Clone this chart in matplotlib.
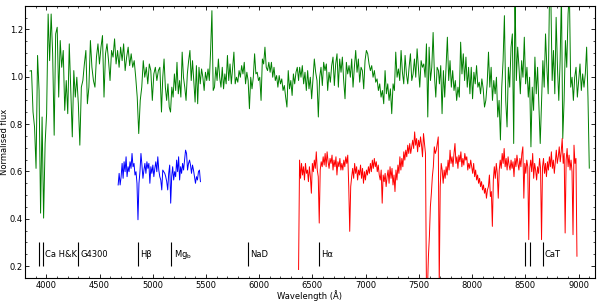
import matplotlib
matplotlib.use("Agg")
import matplotlib.pyplot as plt
from matplotlib.ticker import MultipleLocator
import numpy as np

# green spectrum in four consecutive pieces
green_1_range = (3847, 5067)
green_1 = [1.024, 1.026, 0.851, 0.788, 0.613, 1.090, 0.942, 0.424, 0.830, 0.403,
           0.718, 0.844, 1.265, 1.068, 1.265, 1.097, 0.753, 1.181, 1.209, 0.914,
           1.153, 1.040, 1.111, 0.858, 0.984, 0.844, 1.139, 0.942, 0.746, 1.026,
           0.914, 0.998, 0.886, 0.711, 0.956, 0.984, 1.054, 1.111, 0.886, 0.956,
           1.153, 1.040, 0.984, 0.956, 1.083, 1.139, 1.054, 1.125, 1.174, 0.914,
           1.097, 1.139, 1.068, 0.984, 1.111, 1.083, 1.160, 1.054, 1.111, 1.040,
           1.125, 1.068, 1.139, 1.026, 1.083, 1.125, 1.047, 1.097, 1.040, 1.068,
           0.998, 0.914, 0.760, 0.900, 0.956, 1.068, 0.998, 1.040, 0.970, 1.054,
           1.026, 0.900, 1.012, 1.040, 0.984, 1.026, 1.040]
green_2_range = (5082, 6370)
green_2 = [0.851, 0.998, 1.075, 0.956, 0.900, 0.970, 0.872, 0.851, 0.956, 0.914,
           1.012, 0.942, 1.061, 0.928, 0.984, 0.914, 1.104, 0.998, 0.956, 0.900,
           1.012, 1.068, 1.111, 0.984, 1.068, 0.984, 0.893, 1.047, 0.886, 1.040,
           0.970, 1.033, 0.998, 0.942, 1.019, 0.984, 1.033, 0.984, 1.111, 1.279,
           0.942, 0.956, 1.040, 0.984, 1.075, 0.998, 0.956, 1.040, 0.949, 1.012,
           0.970, 1.090, 0.984, 1.054, 0.970, 1.040, 1.104, 0.970, 0.998, 0.977,
           1.026, 0.998, 1.047, 1.012, 1.061, 0.970, 1.019, 0.984, 0.865, 0.998,
           0.949, 0.998, 1.097, 1.012, 1.019, 0.984, 0.998, 0.900, 1.075, 1.054,
           1.125, 1.040, 1.026, 1.061, 1.019, 1.061, 0.998, 1.040, 0.984, 1.005,
           0.956, 1.005, 0.970, 0.991, 0.942, 0.963, 0.914, 0.872, 1.026, 0.949,
           0.984, 0.921, 1.012, 0.970, 1.019, 1.040, 0.984]
green_3_range = (6380, 7684)
green_3 = [1.040, 0.998, 1.047, 0.970, 1.019, 0.942, 1.026, 0.949, 0.998, 0.907,
           0.991, 1.075, 1.019, 0.984, 0.830, 0.998, 1.040, 0.963, 1.061, 1.026,
           1.054, 0.942, 1.019, 0.977, 1.047, 1.083, 0.963, 1.054, 1.097, 0.956,
           1.075, 1.019, 1.083, 0.984, 0.907, 1.061, 1.012, 1.047, 0.998, 1.075,
           0.956, 1.040, 1.111, 1.019, 1.075, 0.977, 1.040, 1.026, 0.949, 1.068,
           1.111, 1.097, 1.054, 1.026, 1.047, 0.998, 1.026, 0.977, 0.991, 0.942,
           0.970, 0.914, 0.942, 0.886, 1.026, 0.928, 0.970, 0.900, 0.949, 0.844,
           0.970, 0.942, 1.104, 0.998, 1.033, 0.984, 1.111, 1.019, 0.970, 1.090,
           1.012, 0.970, 1.040, 1.097, 0.984, 1.012, 1.075, 0.998, 1.118, 1.040,
           0.956, 1.068, 1.040, 1.054, 0.998, 1.139, 0.830, 1.125, 0.984, 1.040,
           1.187, 1.005, 0.914, 1.040, 1.026]
green_4_range = (7693, 9101)
green_4 = [0.970, 1.047, 0.844, 1.026, 0.914, 1.040, 1.167, 0.984, 1.068, 0.956,
           1.026, 0.942, 0.984, 0.900, 0.956, 0.914, 1.146, 1.012, 1.097, 0.984,
           1.083, 0.956, 1.040, 0.928, 1.040, 0.907, 1.019, 0.970, 1.047, 0.956,
           0.977, 0.928, 0.991, 0.949, 0.872, 0.900, 0.970, 1.104, 0.956, 1.040,
           0.900, 0.984, 0.928, 0.998, 0.830, 0.900, 0.733, 0.956, 1.068, 1.258,
           0.900, 0.788, 1.040, 0.956, 1.125, 1.181, 0.718, 1.350, 0.984, 1.125,
           1.040, 0.928, 1.068, 0.998, 1.167, 0.970, 1.040, 0.914, 0.998, 0.704,
           0.956, 0.858, 1.083, 0.928, 1.040, 0.872, 0.718, 0.886, 1.068, 0.956,
           1.181, 1.040, 0.928, 1.350, 1.340, 0.984, 1.111, 0.928, 1.251, 1.040,
           0.900, 1.068, 1.350, 0.739, 0.900, 1.153, 1.040, 1.265, 1.360, 0.956,
           0.998, 0.900, 0.998, 1.040, 0.914, 0.984, 1.054, 0.942, 1.012, 0.956,
           1.012, 1.125, 0.914, 0.614]

# blue spectrum
blue_range = (4675, 5448)
blue = [0.543, 0.592, 0.543, 0.578, 0.634, 0.571, 0.641, 0.599, 0.662, 0.578,
        0.620, 0.599, 0.641, 0.613, 0.676, 0.620, 0.634, 0.585, 0.599, 0.550,
        0.396, 0.550, 0.599, 0.676, 0.627, 0.571, 0.606, 0.634, 0.592, 0.641,
        0.613, 0.634, 0.550, 0.620, 0.592, 0.627, 0.578, 0.613, 0.641, 0.599,
        0.662, 0.606, 0.578, 0.564, 0.522, 0.606, 0.599, 0.592, 0.578, 0.557,
        0.522, 0.592, 0.627, 0.466, 0.578, 0.620, 0.564, 0.599, 0.578, 0.648,
        0.599, 0.662, 0.564, 0.620, 0.592, 0.634, 0.606, 0.648, 0.690, 0.676,
        0.606, 0.634, 0.648, 0.627, 0.592, 0.627, 0.606, 0.578, 0.550, 0.578,
        0.564, 0.599, 0.606, 0.557]

# red spectrum
red_range = (6370, 8985)
red = [0.186, 0.648, 0.571, 0.634, 0.585, 0.620, 0.564, 0.634, 0.592, 0.606,
       0.557, 0.620, 0.578, 0.508, 0.634, 0.599, 0.648, 0.613, 0.683, 0.606,
       0.578, 0.382, 0.606, 0.641, 0.620, 0.662, 0.627, 0.676, 0.620, 0.683,
       0.641, 0.613, 0.655, 0.634, 0.669, 0.606, 0.648, 0.620, 0.662, 0.585,
       0.641, 0.620, 0.655, 0.606, 0.634, 0.606, 0.648, 0.620, 0.662, 0.634,
       0.669, 0.536, 0.347, 0.536, 0.578, 0.613, 0.571, 0.634, 0.592, 0.620,
       0.564, 0.606, 0.585, 0.627, 0.571, 0.613, 0.550, 0.599, 0.564, 0.606,
       0.585, 0.620, 0.592, 0.634, 0.599, 0.648, 0.613, 0.655, 0.620, 0.641,
       0.599, 0.627, 0.585, 0.564, 0.606, 0.466, 0.585, 0.557, 0.592, 0.536,
       0.578, 0.606, 0.550, 0.620, 0.571, 0.613, 0.543, 0.585, 0.515, 0.606,
       0.564, 0.627, 0.592, 0.662, 0.606, 0.655, 0.620, 0.683, 0.648, 0.690,
       0.662, 0.711, 0.676, 0.718, 0.676, 0.704, 0.732, 0.697, 0.767, 0.711,
       0.739, 0.683, 0.732, 0.704, 0.746, 0.711, 0.662, 0.760, 0.718, 0.676,
       0.100, 0.100, 0.242, 0.326, 0.452, 0.508, 0.578, 0.620, 0.704, 0.676,
       0.690, 0.718, 0.746, 0.120, 0.536, 0.634, 0.606, 0.550, 0.606, 0.571,
       0.620, 0.585, 0.648, 0.606, 0.690, 0.634, 0.662, 0.620, 0.676, 0.718,
       0.634, 0.662, 0.613, 0.669, 0.641, 0.683, 0.620, 0.655, 0.627, 0.676,
       0.648, 0.662, 0.606, 0.634, 0.613, 0.648, 0.620, 0.592, 0.634, 0.578,
       0.606, 0.564, 0.585, 0.550, 0.571, 0.536, 0.557, 0.522, 0.543, 0.508,
       0.529, 0.487, 0.522, 0.536, 0.585, 0.494, 0.515, 0.368, 0.564, 0.620,
       0.571, 0.634, 0.592, 0.487, 0.606, 0.648, 0.613, 0.676, 0.634, 0.697,
       0.620, 0.655, 0.606, 0.662, 0.627, 0.606, 0.648, 0.613, 0.641, 0.578,
       0.655, 0.620, 0.669, 0.634, 0.606, 0.655, 0.620, 0.676, 0.704, 0.487,
       0.634, 0.592, 0.648, 0.620, 0.312, 0.613, 0.648, 0.599, 0.676, 0.571,
       0.634, 0.606, 0.564, 0.620, 0.592, 0.655, 0.613, 0.312, 0.620, 0.655,
       0.592, 0.634, 0.578, 0.641, 0.606, 0.662, 0.620, 0.683, 0.613, 0.648,
       0.592, 0.641, 0.690, 0.634, 0.662, 0.704, 0.641, 0.683, 0.739, 0.634,
       0.676, 0.340, 0.648, 0.697, 0.620, 0.669, 0.606, 0.648, 0.599, 0.333,
       0.711, 0.634, 0.655, 0.242]

# absorption features
feature_labels = ["Ca H&K", "G4300", "H\u03b2", "Mg$_\\mathrm{b}$", "NaD", "H\u03b1", "CaT"]
feature_waves = [[3934, 3969], [4300], [4861], [5175], [5893], [6563], [8498, 8542, 8662]]


def wave_grid(rng, flux):
    return np.linspace(rng[0], rng[1], len(flux))


plt.rcParams['font.size'] = 6
fig = plt.figure(figsize=(6.01, 3.01), dpi=100)
ax = fig.add_axes([0.0416, 0.0764, 0.9476, 0.9046])

# the green pieces joined into one spectrum
green_all = green_1 + green_2 + green_3 + green_4
green_wave = np.concatenate([wave_grid(green_1_range, green_1), wave_grid(green_2_range, green_2),
                             wave_grid(green_3_range, green_3), wave_grid(green_4_range, green_4)])
ax.plot(green_wave, green_all, color='g', lw=0.7)
ax.plot(wave_grid(blue_range, blue), blue, color='b', lw=0.7)
ax.plot(wave_grid(red_range, red), red, color='r', lw=0.7)

for label, waves in zip(feature_labels, feature_waves):
    ax.vlines(waves, 0.2, 0.3, color='k', lw=0.8)
    ax.text(waves[-1] + 22, 0.25, label, va='center', ha='left', fontsize=6)

ax.set_xlim(3800, 9150)
ax.set_ylim(0.15, 1.3)
ax.xaxis.set_major_locator(MultipleLocator(500))
ax.xaxis.set_minor_locator(MultipleLocator(100))
ax.yaxis.set_major_locator(MultipleLocator(0.2))
ax.yaxis.set_minor_locator(MultipleLocator(0.05))
ax.tick_params(which='both', direction='in', top=True, right=True, labelsize=6)
ax.tick_params(axis='x', pad=2)
ax.tick_params(axis='y', pad=1.5)
ax.tick_params(which='major', length=3, width=0.6)
ax.tick_params(which='minor', length=1.5, width=0.5)
for sp in ax.spines.values():
    sp.set_linewidth(0.8)
ax.set_xlabel("Wavelength (\u00c5)", fontsize=6)
ax.set_ylabel("Normalised flux", fontsize=6)
ax.xaxis.set_label_coords(0.5, -0.046)
ax.yaxis.set_label_coords(-0.028, 0.5)

fig.savefig("out.png", dpi=100)
